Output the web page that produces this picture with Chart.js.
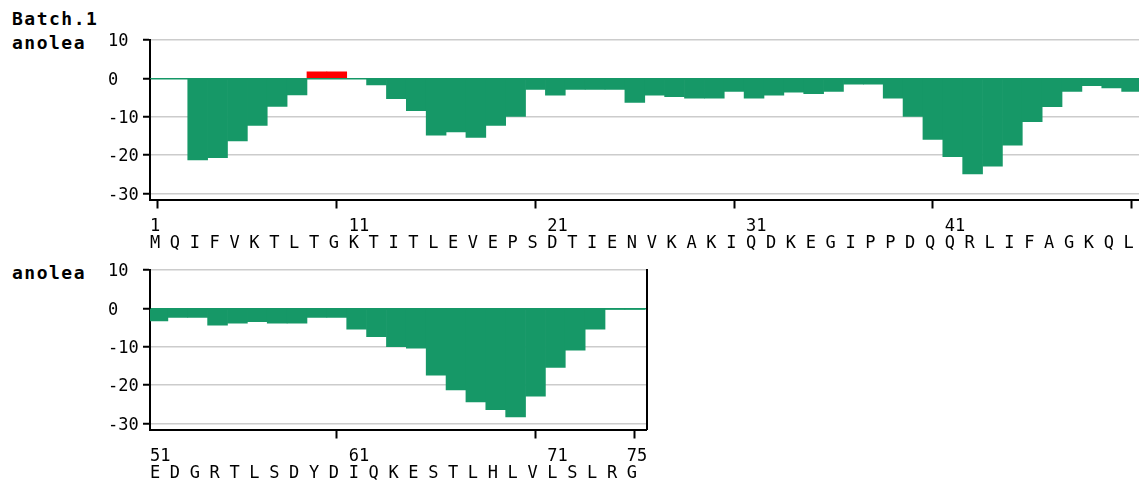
<!DOCTYPE html>
<html>
<head>
<meta charset="utf-8">
<script src="https://cdn.jsdelivr.net/npm/chart.js@4.4.1/dist/chart.umd.min.js"></script>
<style>
  html, body { margin: 0; padding: 0; background: #fff; overflow: hidden; }
  #page { position: relative; width: 1139px; height: 484px; }
  .name { position: absolute; left: 12px; font: bold 18px/18px 'DejaVu Sans Mono', monospace; letter-spacing: 1.5px; color: #000; white-space: nowrap; }
  canvas { position: absolute; left: 0; }
</style>
</head>
<body>
<div id="page">
  <div class="name" style="top:10px">Batch.1</div>
  <div class="name" style="top:34px">anolea</div>
  <div class="name" style="top:264px">anolea</div>
  <canvas id="topPanel" width="1139" height="260" style="top:0"></canvas>
  <canvas id="bottomPanel" width="1139" height="260" style="top:230px"></canvas>
</div>
<script>
// Residues 1-50
const topFirst = 1;
const topLetters = ['M','Q','I','F','V','K','T','L','T','G',
                    'K','T','I','T','L','E','V','E','P','S',
                    'D','T','I','E','N','V','K','A','K','I',
                    'Q','D','K','E','G','I','P','P','D','Q',
                    'Q','R','L','I','F','A','G','K','Q','L'];
const topScores = [0, 0, -21.3, -20.7, -16.3, -12.3, -7.3, -4.3, 1.7, 1.7,
                   0, -1.7, -5.3, -8.4, -14.8, -14.0, -15.4, -12.3, -9.9, -2.9,
                   -4.4, -2.9, -2.9, -2.9, -6.3, -4.4, -4.8, -5.2, -5.2, -3.4,
                   -5.2, -4.4, -3.6, -4.0, -3.4, -1.5, -1.5, -5.2, -9.9, -15.9,
                   -20.4, -24.9, -22.9, -17.4, -11.3, -7.4, -3.4, -1.9, -2.5, -3.4];
const topNumberLabels = [1, 11, 21, 31, 41];
const topTickMarks = [1, 10, 20, 30, 40, 50];

// Residues 51-75
const bottomFirst = 51;
const bottomLetters = ['E','D','G','R','T','L','S','D','Y','D',
                       'I','Q','K','E','S','T','L','H','L','V',
                       'L','S','L','R','G'];
const bottomScores = [-3.3, -2.4, -2.4, -4.4, -3.9, -3.5, -3.9, -3.9, -2.4, -2.4,
                      -5.4, -7.4, -10.0, -10.4, -17.4, -21.3, -24.4, -26.4, -28.3, -22.9,
                      -15.4, -10.9, -5.4, -0.3, -0.3];
const bottomNumberLabels = [51, 61, 71, 75];
const bottomTickMarks = [60, 70, 75];

const yTicks = [10, 0, -10, -20, -30];

const GREEN = '#169867';
const RED = '#ff0000';
const FONT = "'DejaVu Sans Mono', monospace";

function makePanel(id, first, letters, scores, numberLabels, tickMarks, xMin, xMax, padRight, rightBorder) {
    const residues = letters.map((_, i) => first + i);
    const points = residues.map((r, i) => ({ x: r, y: scores[i] }));

    const scales = {
        x: {
            type: 'linear',
            min: xMin,
            max: xMax,
            offset: false,
            afterBuildTicks: s => { s.ticks = residues.map(v => ({ value: v })); },
            afterFit: s => {
                s.height = 60.5;
                // pas de marge automatique pour les étiquettes
                s.paddingLeft = 0;
                s.paddingRight = 0;
            },
            grid: {
                offset: false,
                drawOnChartArea: false,
                tickLength: 9,
                tickWidth: 2,
                tickColor: ctx => (ctx.tick && tickMarks.includes(ctx.tick.value)) ? '#000' : 'rgba(0,0,0,0)'
            },
            border: { display: true, color: '#000', width: 2 },
            ticks: {
                autoSkip: false,
                maxRotation: 0,
                minRotation: 0,
                align: 'start',
                labelOffset: -8,
                padding: 10,
                color: '#000',
                font: { family: FONT, size: 17, lineHeight: '17px' },
                callback: v => [numberLabels.includes(v) ? String(v) : '', letters[v - first]]
            }
        },
        y: {
            type: 'linear',
            min: -31.6,
            max: 10,
            afterBuildTicks: s => { s.ticks = yTicks.map(v => ({ value: v })); },
            afterFit: s => { s.width = 42; },
            grid: {
                color: ctx => (ctx.tick && ctx.tick.value === 0) ? GREEN : '#cccccc',
                lineWidth: 1.5,
                tickLength: 7,
                tickWidth: 2,
                tickColor: '#000'
            },
            border: { display: true, color: '#000', width: 2 },
            ticks: {
                crossAlign: 'far',
                labelOffset: 2,
                color: '#000',
                font: { family: FONT, size: 17 }
            }
        }
    };

    if (rightBorder) {
        scales.yRight = {
            type: 'linear',
            position: 'right',
            min: -31.6,
            max: 10,
            afterFit: s => { s.width = 0; },
            grid: { drawOnChartArea: false, drawTicks: false },
            border: { display: true, color: '#000', width: 2 },
            ticks: { display: false }
        };
    }

    return new Chart(document.getElementById(id), {
        type: 'bar',
        data: {
            datasets: [{
                data: points,
                backgroundColor: ctx => (ctx.raw && ctx.raw.y > 0) ? RED : GREEN,
                borderWidth: 0,
                barPercentage: 1,
                categoryPercentage: 1
            }]
        },
        options: {
            responsive: false,
            animation: false,
            devicePixelRatio: 1,
            events: [],
            layout: {
                autoPadding: false,
                padding: { top: 40, left: 108, right: padRight, bottom: 0 }
            },
            plugins: {
                legend: { display: false },
                tooltip: { enabled: false }
            },
            scales: scales
        }
    });
}

// 19.87 px par résidu, zone de tracé à partir de x = 150
makePanel('topPanel', topFirst, topLetters, topScores, topNumberLabels, topTickMarks,
          0.6, 0.6 + 989 / 19.87, 0, false);
makePanel('bottomPanel', bottomFirst, bottomLetters, bottomScores, bottomNumberLabels, bottomTickMarks,
          50.6, 75.6, 1139 - (150 + 25 * 19.87), true);
</script>
</body>
</html>
